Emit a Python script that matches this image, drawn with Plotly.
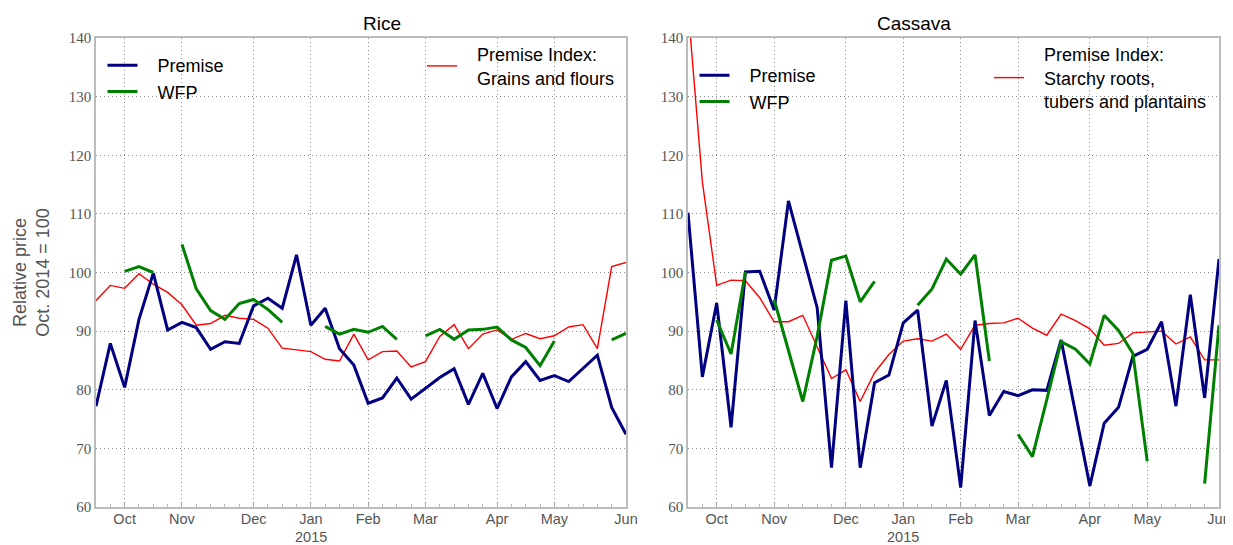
import pandas as pd
import plotly.graph_objects as go

# Weekly observations (week starting Monday), 15 Sep 2014 .. 1 Jun 2015
weeks = pd.date_range("2014-09-15", periods=38, freq="7D")

N = None
rice_premise = [77.2, 87.9, 80.4, 92.0, 99.9, 90.2, 91.5, 90.6, 86.9, 88.2,
                87.9, 94.3, 95.6, 93.9, 103.0, 91.0, 93.9, 87.0, 84.2, 77.7,
                78.6, 82.0, 78.4, 80.2, 82.1, 83.6, 77.5, 82.8, 76.8, 82.2,
                84.8, 81.6, 82.4, 81.4, 83.6, 85.9, 77.0, 72.4]
rice_wfp = [N, N, 100.2, 101.0, 100.0, N, 104.8, 97.2, 93.5, 92.0,
            94.7, 95.4, 93.7, 91.5, N, N, 90.8, 89.5, 90.3, 89.8,
            90.8, 88.6, N, 89.2, 90.3, 88.6, 90.2, 90.3, 90.7, 88.5,
            87.2, 84.1, 88.3, N, N, N, 88.5, 89.6]
rice_index = [95.2, 97.8, 97.3, 99.8, 98.0, 96.6, 94.5, 91.0, 91.3, 92.7,
              92.2, 92.0, 90.5, 87.1, 86.8, 86.5, 85.2, 84.9, 89.5, 85.1,
              86.5, 86.6, 83.9, 84.8, 89.1, 91.1, 87.0, 89.5, 90.2, 88.6,
              89.6, 88.7, 89.2, 90.7, 91.1, 87.0, 101.0, 101.7]

cassava_premise = [110.2, 82.2, 94.8, 73.6, 100.1, 100.2, 93.6, 112.2, 103.1, 94.0,
                   66.7, 95.2, 66.7, 81.2, 82.5, 91.4, 93.6, 73.8, 81.6, 63.3,
                   91.8, 75.6, 79.7, 79.0, 80.0, 79.9, 88.5, 76.1, 63.6, 74.3,
                   77.0, 85.7, 86.9, 91.6, 77.2, 96.2, 78.6, 102.3]
cassava_wfp = [N, N, 91.9, 86.1, 100.1, N, 95.4, 86.6, 78.0, 89.1,
               102.1, 102.8, 95.0, 98.5, N, N, 94.4, 97.2, 102.3, 99.7,
               103.0, 84.9, N, 72.4, 68.6, 78.3, 88.2, 86.9, 84.4, 92.7,
               90.1, 86.2, 67.8, N, N, N, 64.0, 91.0]
cassava_index = [145.3, 115.5, 97.8, 98.7, 98.6, 95.7, 91.6, 91.6, 92.7, 87.2,
                 81.9, 83.4, 78.0, 82.9, 86.0, 88.3, 88.7, 88.3, 89.5, 86.9,
                 91.0, 91.3, 91.4, 92.2, 90.5, 89.3, 92.9, 91.8, 90.4, 87.6,
                 87.9, 89.7, 89.9, 90.0, 87.8, 89.0, 85.1, 85.1]

month_ticks = ["2014-09-29", "2014-10-27", "2014-12-01", "2014-12-29", "2015-01-26",
               "2015-02-23", "2015-03-30", "2015-04-27", "2015-06-01"]
month_labels = ["Oct", "Nov", "Dec", "Jan", "Feb", "Mar", "Apr", "May", "Jun"]
year_tick = "2014-12-29"
year_label = "2015"
y_ticks = [60, 70, 80, 90, 100, 110, 120, 130, 140]

titles = ["Rice", "Cassava"]
index_names = ["Premise Index:<br>Grains and flours",
               "Premise Index:<br>Starchy roots,<br>tubers and plantains"]

NAVY, GREEN, RED = "#000080", "#008000", "#ff0000"
SANS = "Liberation Sans, Arial, sans-serif"
SERIF = "Liberation Serif, DejaVu Serif, serif"
PAD = "\u00a0\u00a0\u00a0"

fig = go.Figure()
panels = [(rice_premise, rice_wfp, rice_index), (cassava_premise, cassava_wfp, cassava_index)]
for k, (prem, wfp, idx) in enumerate(panels):
    xa = "x" if k == 0 else "x2"
    ya = "y" if k == 0 else "y2"
    lg_a = "legend" if k == 0 else "legend3"
    lg_b = "legend2" if k == 0 else "legend4"
    fig.add_trace(go.Scatter(x=weeks, y=idx, mode="lines",
                             name=PAD + index_names[k].replace("<br>", "<br>" + PAD),
                             line=dict(color=RED, width=1.4), xaxis=xa, yaxis=ya,
                             legend=lg_b))
    fig.add_trace(go.Scatter(x=weeks, y=prem, mode="lines", name=PAD + "Premise",
                             line=dict(color=NAVY, width=3), xaxis=xa, yaxis=ya,
                             legend=lg_a, legendgroup=f"p{k}"))
    fig.add_trace(go.Scatter(x=weeks, y=wfp, mode="lines", name=PAD + "WFP",
                             line=dict(color=GREEN, width=3), xaxis=xa, yaxis=ya,
                             legend=lg_a, legendgroup=f"w{k}", connectgaps=False))

# the page body adds an 8px margin; the figure is sized to fit the window
OFF = 8
W, H = 1233 - OFF, 545 - OFF


def px(x):
    return (x - OFF) / W


def py(y):
    return 1 - (y - OFF) / H


dom_left = [px(96), px(626)]
dom_right = [px(688), px(1219)]
ydom = [py(507), py(38)]

xcommon = dict(
    type="date", range=[weeks[0], weeks[-1]], tickvals=month_ticks, ticktext=month_labels,
    showgrid=True, gridcolor="#8a8a8a", griddash="1px,3px", gridwidth=1,
    showline=True, linecolor="#bbb", linewidth=1.5, mirror=True,
    ticks="inside", ticklen=4, tickcolor="#aaa",
    minor=dict(ticks="inside", ticklen=3, tickcolor="#bbb", dtick=7 * 86400000,
               tick0="2014-09-15", showgrid=False),
    tickfont=dict(family=SANS, size=14.5, color="#555"), zeroline=False,
    ticklabelstandoff=-2,
)
ycommon = dict(
    range=[60, 140], tickvals=y_ticks, showgrid=True, gridcolor="#8a8a8a", griddash="1px,3px",
    gridwidth=1, showline=True, linecolor="#bbb", linewidth=1.5, mirror=True,
    ticks="", tickfont=dict(family=SERIF, size=15, color="#555"), zeroline=False,
    domain=ydom,
)
lfont = dict(family=SANS, size=18, color="black")

annotations = []
for k, dom in enumerate([dom_left, dom_right]):
    annotations.append(dict(text=titles[k], x=sum(dom) / 2, y=py(24), xref="paper",
                            yref="paper", yanchor="middle", showarrow=False,
                            font=dict(family=SANS, size=19, color="black")))
    annotations.append(dict(text=year_label, x=year_tick, xref="x" if k == 0 else "x2",
                            y=py(545), yref="paper", yanchor="bottom", xanchor="center",
                            showarrow=False, borderpad=0, height=15, valign="middle",
                            font=dict(family=SANS, size=14.5, color="#555")))

fig.update_layout(
    width=W, height=H, margin=dict(l=0, r=0, t=0, b=0, autoexpand=False),
    paper_bgcolor="white", plot_bgcolor="white", showlegend=True,
    xaxis=dict(xcommon, domain=dom_left, anchor="y"),
    yaxis=dict(ycommon, anchor="x",
               title=dict(text="Relative price<br>Oct. 2014 = 100",
                          font=dict(family=SANS, size=18, color="#555"), standoff=14)),
    xaxis2=dict(xcommon, domain=dom_right, anchor="y2"),
    yaxis2=dict(ycommon, anchor="x2"),
    legend=dict(x=px(102.5), y=py(47), xanchor="left", yanchor="top",
                bgcolor="rgba(0,0,0,0)", font=lfont, tracegroupgap=0, itemwidth=30,
                traceorder="grouped"),
    legend2=dict(x=px(422), y=py(36), xanchor="left", yanchor="top",
                 bgcolor="rgba(0,0,0,0)", font=lfont, itemwidth=30),
    legend3=dict(x=px(694.5), y=py(57), xanchor="left", yanchor="top",
                 bgcolor="rgba(0,0,0,0)", font=lfont, tracegroupgap=0, itemwidth=30,
                 traceorder="grouped"),
    legend4=dict(x=px(989), y=py(36), xanchor="left", yanchor="top",
                 bgcolor="rgba(0,0,0,0)", font=lfont, itemwidth=30),
    annotations=annotations,
)

fig.write_html("out.html")
